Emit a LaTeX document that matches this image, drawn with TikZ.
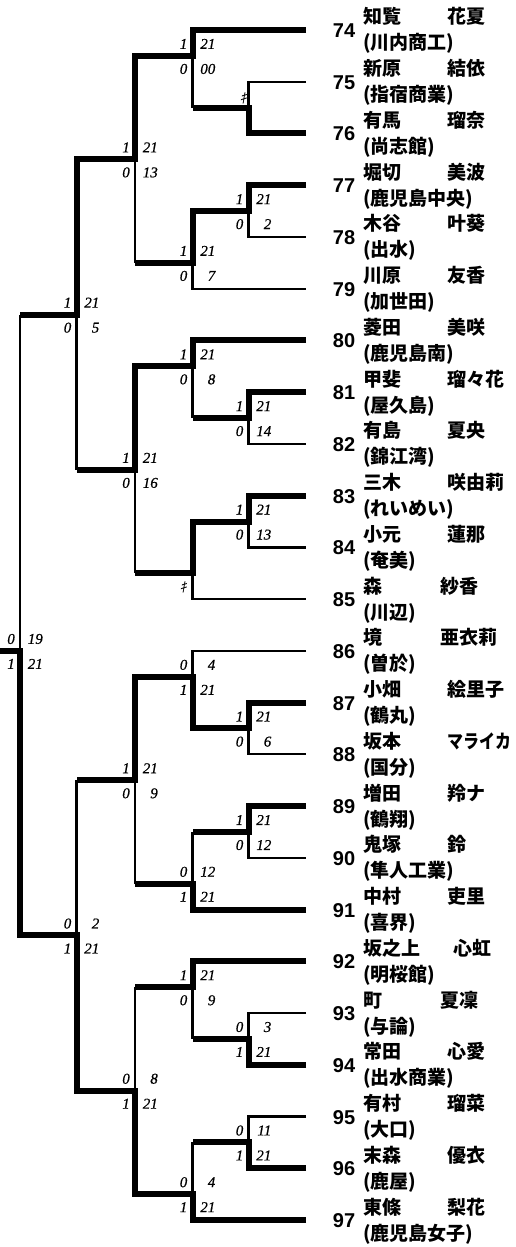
\documentclass[tikz,border=0pt]{standalone}
\usepackage{fontspec}
\newfontfamily\jp{Noto Sans CJK JP}
\newfontfamily\jpsl{Noto Sans CJK JP}[FakeSlant=0.25]
\newfontfamily\scf{Liberation Serif}[ItalicFeatures={FakeBold=0.6}]
\newfontfamily\numf{Liberation Sans}
\tikzset{
  thinln/.style={line width=2.2pt,line join=miter},
  thickln/.style={line width=6pt,line join=miter},
  scoreL/.style={anchor=base east,inner sep=0pt,font=\scf\itshape\fontsize{15}{15}\selectfont},
  scoreR/.style={anchor=base east,inner sep=0pt,font=\scf\itshape\fontsize{15}{15}\selectfont},
  kk/.style={anchor=base east,inner sep=0pt,font=\jpsl\fontsize{14}{14}\selectfont},
  numst/.style={anchor=base,inner sep=0pt,font=\numf\bfseries\fontsize{20}{20}\selectfont},
  namest/.style={anchor=base west,inner sep=0pt,font=\jp\bfseries\fontsize{19}{19}\selectfont},
}
\newcommand\scorelab[6]{%
  \node[scoreL] (s#1-#2a) at ([shift={(-5,-7)}]c#1-#2) {#3};
  \node[scoreR] (s#1-#2b) at ([shift={(23,-7)}]c#1-#2) {#4};
  \node[scoreL] (s#1-#2c) at ([shift={(-5,18)}]c#1-#2) {#5};
  \node[scoreR] (s#1-#2d) at ([shift={(23,18)}]c#1-#2) {#6};}
\begin{document}
\begin{tikzpicture}[x=1pt,y=-1pt]
\fill[white] (0,0) rectangle (516,1247);
\useasboundingbox (0,0) rectangle (516,1247);
% grid coordinates
\foreach \c/\x in {0/0,1/20,2/76.5,3/135,4/192.5,5/248.5,6/306}{
  \foreach \k in {0,...,46}{
    \coordinate (c\c-\k) at (\x,{30+\k*25.87});
  }
}
% thin bracket
\foreach \a/\b in {2/4,6/8,14/16,18/20,26/28,30/32,38/40,42/44}{
  \draw[thinln] (c6-\a) -- (c5-\a) -- (c5-\b) -- (c6-\b);
}
\draw[thinln] (c6-0) -- (c4-0) -- (c4-3);
\draw[thinln] (c4-7) -- (c4-10) -- (c6-10);
\draw[thinln] (c6-12) -- (c4-12) -- (c4-15);
\draw[thinln] (c4-19) -- (c4-22) -- (c6-22);
\draw[thinln] (c6-24) -- (c4-24) -- (c4-27);
\draw[thinln] (c4-31) -- (c4-34) -- (c6-34);
\draw[thinln] (c6-36) -- (c4-36) -- (c4-39);
\draw[thinln] (c4-43) -- (c4-46) -- (c6-46);
\draw[thinln] (c3-1) -- (c3-9);
\draw[thinln] (c3-13) -- (c3-21);
\draw[thinln] (c3-25) -- (c3-33);
\draw[thinln] (c3-37) -- (c3-45);
\draw[thinln] (c2-5) -- (c2-17);
\draw[thinln] (c2-29) -- (c2-41);
\draw[thinln] (c1-11) -- (c1-35);
% winners' paths
\draw[thickln] (c6-0) -- (c4-0) -- (c4-1) -- (c3-1) -- (c3-5) -- (c2-5) -- (c2-11) -- (c1-11);
\draw[thickln] (c6-4) -- (c5-4) -- (c5-3) -- (c4-3);
\draw[thickln] (c6-6) -- (c5-6) -- (c5-7) -- (c4-7) -- (c4-9) -- (c3-9);
\draw[thickln] (c6-12) -- (c4-12) -- (c4-13) -- (c3-13) -- (c3-17) -- (c2-17);
\draw[thickln] (c6-14) -- (c5-14) -- (c5-15) -- (c4-15);
\draw[thickln] (c6-18) -- (c5-18) -- (c5-19) -- (c4-19) -- (c4-21) -- (c3-21);
\draw[thickln] (c6-26) -- (c5-26) -- (c5-27) -- (c4-27) -- (c4-25) -- (c3-25) -- (c3-29) -- (c2-29);
\draw[thickln] (c6-30) -- (c5-30) -- (c5-31) -- (c4-31);
\draw[thickln] (c6-34) -- (c4-34) -- (c4-33) -- (c3-33);
\draw[thickln] (c6-36) -- (c4-36) -- (c4-37) -- (c3-37);
\draw[thickln] (c6-40) -- (c5-40) -- (c5-39) -- (c4-39);
\draw[thickln] (c6-44) -- (c5-44) -- (c5-43) -- (c4-43);
\draw[thickln] (c6-46) -- (c4-46) -- (c4-45) -- (c3-45) -- (c3-41) -- (c2-41) -- (c2-35) -- (c1-35) -- (c1-24) -- (c0-24);
% scores
\scorelab{5}{7}{1}{21}{0}{2}
\scorelab{5}{15}{1}{21}{0}{14}
\scorelab{5}{19}{1}{21}{0}{13}
\scorelab{5}{27}{1}{21}{0}{6}
\scorelab{5}{31}{1}{21}{0}{12}
\scorelab{5}{39}{0}{3}{1}{21}
\scorelab{5}{43}{0}{11}{1}{21}
\scorelab{4}{1}{1}{21}{0}{00}
\scorelab{4}{9}{1}{21}{0}{7}
\scorelab{4}{13}{1}{21}{0}{8}
\scorelab{4}{25}{0}{4}{1}{21}
\scorelab{4}{33}{0}{12}{1}{21}
\scorelab{4}{37}{1}{21}{0}{9}
\scorelab{4}{45}{0}{4}{1}{21}
\scorelab{3}{5}{1}{21}{0}{13}
\scorelab{3}{17}{1}{21}{0}{16}
\scorelab{3}{29}{1}{21}{0}{9}
\scorelab{3}{41}{0}{8}{1}{21}
\scorelab{2}{11}{1}{21}{0}{5}
\scorelab{2}{35}{0}{2}{1}{21}
\scorelab{1}{24}{0}{19}{1}{21}
\node[kk] (k5-3) at ([shift={(-2,-4)}]c5-3) {ｷ};
\node[kk] (k4-21) at ([shift={(-6,19)}]c4-21) {ｷ};
% entries
\foreach \k/\n/\s/\g/\gx/\sc in {
 0/74/知覧/花夏/141/{(川内商工)},
 2/75/新原/結依/141/{(指宿商業)},
 4/76/有馬/瑠奈/141/{(尚志館)},
 6/77/堀切/美波/141/{(鹿児島中央)},
 8/78/木谷/叶葵/141/{(出水)},
 10/79/川原/友香/141/{(加世田)},
 12/80/菱田/美咲/141/{(鹿児島南)},
 14/81/甲斐/瑠々花/141/{(屋久島)},
 16/82/有島/夏央/141/{(錦江湾)},
 18/83/三木/咲由莉/141/{(れいめい)},
 20/84/小元/蓮那/141/{(奄美)},
 22/85/森/紗香/134/{(川辺)},
 24/86/境/亜衣莉/134/{(曽於)},
 26/87/小畑/絵里子/141/{(鶴丸)},
 28/88/坂本/{\scalebox{0.84}[1]{マライカ}}/141/{(国分)},
 30/89/増田/羚ナ/141/{(鶴翔)},
 32/90/鬼塚/鈴/141/{(隼人工業)},
 34/91/中村/吏里/141/{(喜界)},
 36/92/坂之上/心虹/147/{(明桜館)},
 38/93/町/夏凜/134/{(与論)},
 40/94/常田/心愛/141/{(出水商業)},
 42/95/有村/瑠菜/141/{(大口)},
 44/96/末森/優衣/141/{(鹿屋)},
 46/97/東條/梨花/141/{(鹿児島女子)}}{
  \node[numst] (n\n) at ([shift={(38,7.5)}]c6-\k) {\n};
  \node[namest] (sur\n) at ([shift={(57,-6)}]c6-\k) {\s};
  \node[namest] (giv\n) at ([shift={(\gx,-6)}]c6-\k) {\g};
  \node[namest] (sch\n) at ([shift={(57,20)}]c6-\k) {\sc};
}
\end{tikzpicture}
\end{document}
